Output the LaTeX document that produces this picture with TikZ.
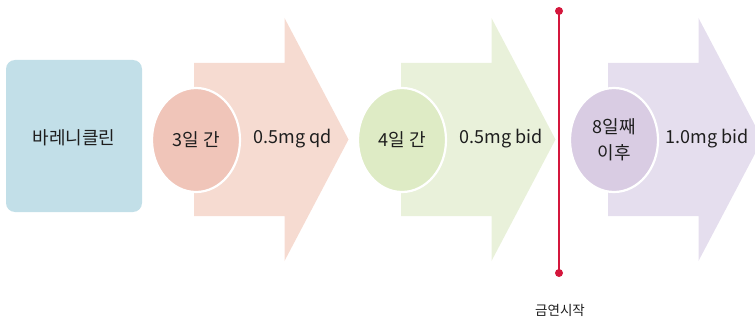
\documentclass[tikz,border=0pt]{standalone}
\usepackage{fontspec}
\setmainfont{Noto Sans CJK KR}
\definecolor{boxblue}{HTML}{C2DFE8}
\definecolor{arrpink}{HTML}{F6DBD1}
\definecolor{circpink}{HTML}{F0C5B9}
\definecolor{arrgreen}{HTML}{E9F1DA}
\definecolor{circgreen}{HTML}{DEEBC5}
\definecolor{arrlav}{HTML}{E5DEEE}
\definecolor{circlav}{HTML}{D9CCE3}
\definecolor{redline}{HTML}{D4163C}
\definecolor{txt}{HTML}{1E1E1E}
\tikzset{
  lbl/.style={text=txt, font=\fontsize{18}{21}\selectfont, inner sep=0pt},
  small/.style={text=txt, font=\fontsize{13.5}{16}\selectfont, inner sep=0pt},
  disc/.style={draw=white, line width=2.2pt, ellipse, minimum width=88pt, minimum height=104pt, inner sep=0pt, text=txt, font=\fontsize{18}{26}\selectfont, align=center},
  dot/.style={circle, fill=redline, minimum size=8pt, inner sep=0pt}
}
\usetikzlibrary{shapes.geometric}
\begin{document}
\begin{tikzpicture}[x=1pt,y=-1pt]
\useasboundingbox (0,0) rectangle (755,321);
\clip (0,0) rectangle (755,321);
% blue box
\node[fill=boxblue, rounded corners=9pt, minimum width=136pt, minimum height=152pt, inner sep=0pt] (drug) at (74,136) {};
\node[lbl] (drugtxt) at (74,138) {바레니클린};
% arrows
\foreach \dx/\col in {0/arrpink, 207/arrgreen, 414/arrlav}{
  \fill[\col] (194+\dx,63) -- (284.5+\dx,63) -- (284.5+\dx,18) -- (348.5+\dx,139.5) -- (284.5+\dx,261) -- (284.5+\dx,216) -- (194+\dx,216) -- cycle;
}
% circles
\node[disc, fill=circpink] (c1) at (196,140) {3일 간};
\node[disc, fill=circgreen] (c2) at (402,140) {4일 간};
\node[disc, fill=circlav] (c3) at (614,140) {8일째\\이후};
% dose labels
\node[lbl] (d1) at (293,139) {0.5mg qd};
\node[lbl] (d2) at (501,139) {0.5mg bid};
\node[lbl] (d3) at (707,139) {1.0mg bid};
% quit line
\coordinate (qtop) at (559,11);
\coordinate (qbot) at (559,273);
\draw[redline, line width=1.8pt] (qtop) -- (qbot);
\node[dot] (dtop) at (qtop) {};
\node[dot] (dbot) at (qbot) {};
\node[small] (quit) at (560,310) {금연시작};
\end{tikzpicture}
\end{document}
